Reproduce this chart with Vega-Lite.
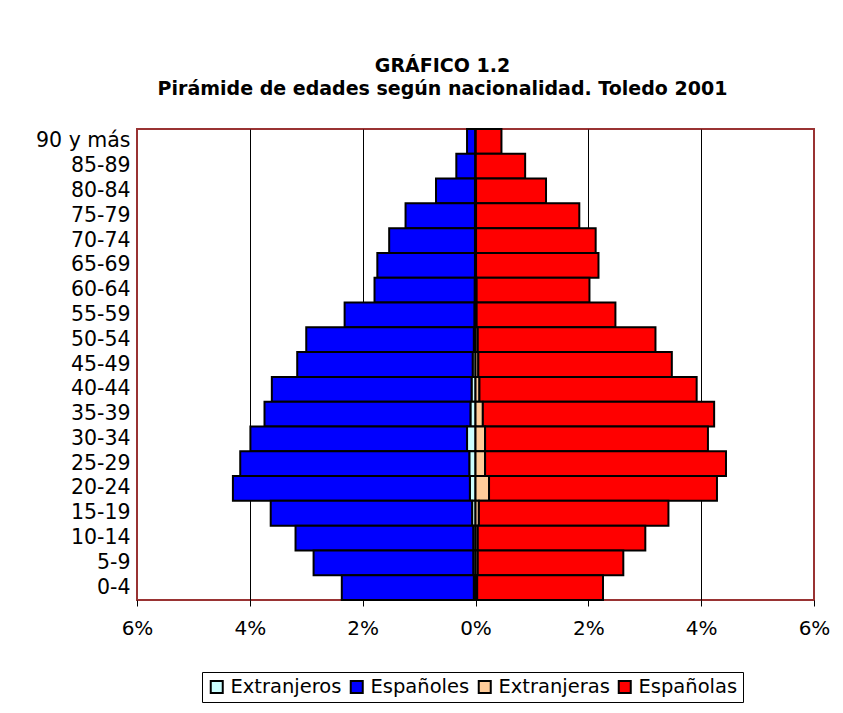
{
  "$schema": "https://vega.github.io/schema/vega-lite/v6.json",
  "width": 677,
  "height": 471,
  "autosize": {"type": "none"},
  "padding": {"left": 137, "top": 129, "right": 29, "bottom": 113},
  "background": "white",
  "title": {
    "text": ["GRÁFICO 1.2", "Pirámide de edades según nacionalidad. Toledo 2001"],
    "font": "DejaVu Sans",
    "fontSize": 19,
    "fontWeight": "bold",
    "lineHeight": 23,
    "anchor": "middle",
    "frame": "group",
    "dx": -33,
    "offset": 10,
    "baseline": "bottom",
    "color": "black"
  },
  "data": {
    "values": [
      {"age": "90 y más", "group": "Extranjeros", "value": -0.005},
      {"age": "90 y más", "group": "Españoles", "value": -0.145},
      {"age": "90 y más", "group": "Extranjeras", "value": 0.005},
      {"age": "90 y más", "group": "Españolas", "value": 0.455},
      {"age": "85-89", "group": "Extranjeros", "value": -0.005},
      {"age": "85-89", "group": "Españoles", "value": -0.335},
      {"age": "85-89", "group": "Extranjeras", "value": 0.005},
      {"age": "85-89", "group": "Españolas", "value": 0.875},
      {"age": "80-84", "group": "Extranjeros", "value": -0.01},
      {"age": "80-84", "group": "Españoles", "value": -0.69},
      {"age": "80-84", "group": "Extranjeras", "value": 0.01},
      {"age": "80-84", "group": "Españolas", "value": 1.24},
      {"age": "75-79", "group": "Extranjeros", "value": -0.01},
      {"age": "75-79", "group": "Españoles", "value": -1.23},
      {"age": "75-79", "group": "Extranjeras", "value": 0.01},
      {"age": "75-79", "group": "Españolas", "value": 1.83},
      {"age": "70-74", "group": "Extranjeros", "value": -0.01},
      {"age": "70-74", "group": "Españoles", "value": -1.52},
      {"age": "70-74", "group": "Extranjeras", "value": 0.01},
      {"age": "70-74", "group": "Españolas", "value": 2.12},
      {"age": "65-69", "group": "Extranjeros", "value": -0.01},
      {"age": "65-69", "group": "Españoles", "value": -1.73},
      {"age": "65-69", "group": "Extranjeras", "value": 0.01},
      {"age": "65-69", "group": "Españolas", "value": 2.17},
      {"age": "60-64", "group": "Extranjeros", "value": -0.015},
      {"age": "60-64", "group": "Españoles", "value": -1.775},
      {"age": "60-64", "group": "Extranjeras", "value": 0.02},
      {"age": "60-64", "group": "Españolas", "value": 2.0},
      {"age": "55-59", "group": "Extranjeros", "value": -0.02},
      {"age": "55-59", "group": "Españoles", "value": -2.3},
      {"age": "55-59", "group": "Extranjeras", "value": 0.02},
      {"age": "55-59", "group": "Españolas", "value": 2.46},
      {"age": "50-54", "group": "Extranjeros", "value": -0.03},
      {"age": "50-54", "group": "Españoles", "value": -2.97},
      {"age": "50-54", "group": "Extranjeras", "value": 0.04},
      {"age": "50-54", "group": "Españolas", "value": 3.15},
      {"age": "45-49", "group": "Extranjeros", "value": -0.05},
      {"age": "45-49", "group": "Españoles", "value": -3.11},
      {"age": "45-49", "group": "Extranjeras", "value": 0.05},
      {"age": "45-49", "group": "Españolas", "value": 3.43},
      {"age": "40-44", "group": "Extranjeros", "value": -0.07},
      {"age": "40-44", "group": "Españoles", "value": -3.54},
      {"age": "40-44", "group": "Extranjeras", "value": 0.07},
      {"age": "40-44", "group": "Españolas", "value": 3.85},
      {"age": "35-39", "group": "Extranjeros", "value": -0.09},
      {"age": "35-39", "group": "Españoles", "value": -3.65},
      {"age": "35-39", "group": "Extranjeras", "value": 0.13},
      {"age": "35-39", "group": "Españolas", "value": 4.1},
      {"age": "30-34", "group": "Extranjeros", "value": -0.15},
      {"age": "30-34", "group": "Españoles", "value": -3.84},
      {"age": "30-34", "group": "Extranjeras", "value": 0.17},
      {"age": "30-34", "group": "Españolas", "value": 3.95},
      {"age": "25-29", "group": "Extranjeros", "value": -0.11},
      {"age": "25-29", "group": "Españoles", "value": -4.06},
      {"age": "25-29", "group": "Extranjeras", "value": 0.17},
      {"age": "25-29", "group": "Españolas", "value": 4.27},
      {"age": "20-24", "group": "Extranjeros", "value": -0.1},
      {"age": "20-24", "group": "Españoles", "value": -4.2},
      {"age": "20-24", "group": "Extranjeras", "value": 0.24},
      {"age": "20-24", "group": "Españolas", "value": 4.04},
      {"age": "15-19", "group": "Extranjeros", "value": -0.06},
      {"age": "15-19", "group": "Españoles", "value": -3.57},
      {"age": "15-19", "group": "Extranjeras", "value": 0.06},
      {"age": "15-19", "group": "Españolas", "value": 3.36},
      {"age": "10-14 ", "group": "Extranjeros", "value": -0.04},
      {"age": "10-14 ", "group": "Españoles", "value": -3.15},
      {"age": "10-14 ", "group": "Extranjeras", "value": 0.04},
      {"age": "10-14 ", "group": "Españolas", "value": 2.97},
      {"age": "5-9", "group": "Extranjeros", "value": -0.04},
      {"age": "5-9", "group": "Españoles", "value": -2.83},
      {"age": "5-9", "group": "Extranjeras", "value": 0.04},
      {"age": "5-9", "group": "Españolas", "value": 2.58},
      {"age": "0-4", "group": "Extranjeros", "value": -0.03},
      {"age": "0-4", "group": "Españoles", "value": -2.34},
      {"age": "0-4", "group": "Extranjeras", "value": 0.03},
      {"age": "0-4", "group": "Españolas", "value": 2.23}
    ]
  },
  "mark": {"type": "bar", "stroke": "black", "strokeWidth": 2},
  "encoding": {
    "y": {
      "field": "age",
      "type": "nominal",
      "sort": ["90 y más", "85-89", "80-84", "75-79", "70-74", "65-69", "60-64", "55-59", "50-54", "45-49", "40-44", "35-39", "30-34", "25-29", "20-24", "15-19", "10-14 ", "5-9", "0-4"],
      "scale": {"paddingInner": 0, "paddingOuter": 0},
      "axis": {
        "title": null,
        "ticks": false,
        "domain": false,
        "labelFont": "DejaVu Sans",
        "labelFontSize": 20.5,
        "labelColor": "black",
        "labelPadding": 7
      }
    },
    "x": {
      "field": "value",
      "type": "quantitative",
      "stack": "zero",
      "scale": {"domain": [-6, 6], "nice": false},
      "axis": {
        "title": null,
        "values": [-6, -4, -2, 0, 2, 4, 6],
        "labelExpr": "abs(datum.value) + '%'",
        "grid": true,
        "gridColor": {"condition": {"test": "abs(datum.value) == 6", "value": "#993333"}, "value": "black"},
        "gridOpacity": 1,
        "gridWidth": 1,
        "domain": false,
        "tickColor": "black",
        "tickSize": 6,
        "tickWidth": 1,
        "labelFont": "DejaVu Sans",
        "labelFontSize": 20,
        "labelColor": "black",
        "labelPadding": 12,
        "labelFlush": false
      }
    },
    "color": {
      "field": "group",
      "type": "nominal",
      "scale": {
        "domain": ["Extranjeros", "Españoles", "Extranjeras", "Españolas"],
        "range": ["#CCFFFF", "#0000FF", "#FFCC99", "#FF0000"]
      },
      "legend": {
        "title": null,
        "orient": "none",
        "legendX": 65,
        "legendY": 543,
        "direction": "horizontal",
        "columns": 4,
        "strokeColor": "black",
        "fillColor": "white",
        "padding": 5,
        "symbolType": "square",
        "symbolSize": 144,
        "symbolStrokeColor": "black",
        "symbolStrokeWidth": 2,
        "symbolOpacity": 1,
        "labelFont": "DejaVu Sans",
        "labelFontSize": 19.5,
        "labelColor": "black",
        "labelOffset": 4,
        "columnPadding": 4
      }
    },
    "order": {"field": "group", "sort": "descending"}
  },
  "config": {
    "view": {"stroke": "#993333", "strokeWidth": 2}
  }
}
